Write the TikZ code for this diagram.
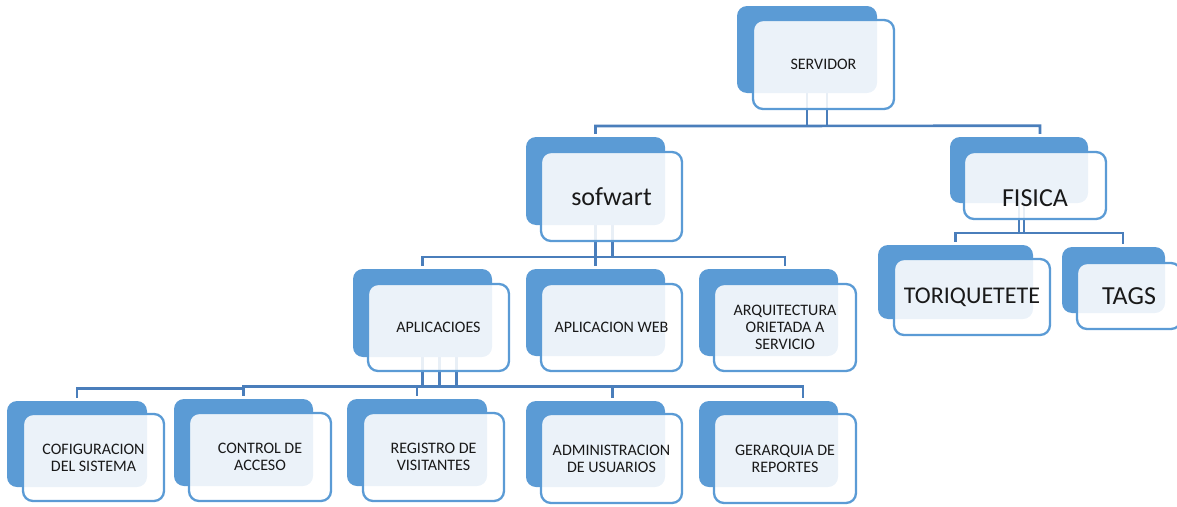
\documentclass[tikz,border=0pt]{standalone}
\usepackage{fontspec}
\setmainfont{Carlito}
\usetikzlibrary{calc}
\pgfdeclarelayer{bg}
\pgfsetlayers{bg,main}
\definecolor{bkblue}{HTML}{5B9BD5}
\definecolor{lnblue}{HTML}{4A7EBB}
\begin{document}
\begin{tikzpicture}[x=1pt,y=-1pt,
  backbox/.style={rectangle, rounded corners=10pt, fill=bkblue, inner sep=0pt},
  frontbox/.style={rectangle, rounded corners=10pt, draw=bkblue, line width=2.3pt,
    fill=white, fill opacity=0.88, text opacity=1, inner sep=0pt, align=center,
    text=black!90, font=\fontsize{16}{17}\selectfont},
  bigtext/.style={font=\fontsize{26}{30}\selectfont},
  conn/.style={draw=lnblue, line width=2.7pt}]
\useasboundingbox (0,0) rectangle (1177,506);

% back boxes
\node[backbox, minimum width=140pt, minimum height=87pt] (srvB) at (807,49.5) {};
\node[backbox, minimum width=139pt, minimum height=88pt] (sofB) at (595.5,181) {};
\node[backbox, minimum width=138pt, minimum height=66pt] (fisB) at (1019,170) {};
\node[backbox, minimum width=139pt, minimum height=88pt] (aplB) at (422.5,313) {};
\node[backbox, minimum width=139pt, minimum height=87pt] (webB) at (595.5,312.5) {};
\node[backbox, minimum width=139pt, minimum height=87pt] (arqB) at (768.5,312.5) {};
\node[backbox, minimum width=155pt, minimum height=74pt] (torB) at (955.5,282) {};
\node[backbox, minimum width=103pt, minimum height=66pt] (tagB) at (1113.5,280) {};
\node[backbox, minimum width=140pt, minimum height=86pt] (cfgB) at (77,444) {};
\node[backbox, minimum width=139pt, minimum height=87pt] (ctlB) at (243.5,442.5) {};
\node[backbox, minimum width=140pt, minimum height=87pt] (regB) at (417,442.5) {};
\node[backbox, minimum width=139pt, minimum height=86pt] (admB) at (595.5,444) {};
\node[backbox, minimum width=139pt, minimum height=86pt] (gerB) at (768.5,444) {};

% front boxes
\node[frontbox, minimum width=141pt, minimum height=89pt] (srv) at (823.5,64.5) {SERVIDOR};
\node[frontbox, bigtext, minimum width=141pt, minimum height=89pt] (sof) at (611.5,196.5) {sofwart};
\node[frontbox, minimum width=142pt, minimum height=67pt] (fis) at (1035,185.5) {};
\node[bigtext, text=black!90, inner sep=0pt] (fisT) at ($(fis.center)+(0,13)$) {FISICA};
\node[frontbox, minimum width=141pt, minimum height=87pt] (apl) at (438.5,327.5) {APLICACIOES};
\node[frontbox, minimum width=141pt, minimum height=87pt] (web) at (611.5,327.5) {APLICACION WEB};
\node[frontbox, minimum width=142pt, minimum height=87pt] (arq) at (785,327.5) {ARQUITECTURA\\ORIETADA A\\SERVICIO};
\node[frontbox, font=\fontsize{24}{28}\selectfont, minimum width=156pt, minimum height=76pt] (tor) at (972,297) {TORIQUETETE};
\node[frontbox, bigtext, minimum width=104pt, minimum height=66pt] (tag) at (1129,296) {TAGS};
\node[frontbox, minimum width=141pt, minimum height=87pt] (cfg) at (93.5,457.5) {COFIGURACION\\DEL SISTEMA};
\node[frontbox, minimum width=142pt, minimum height=88pt] (ctl) at (260,457) {CONTROL DE\\ACCESO};
\node[frontbox, minimum width=141pt, minimum height=88pt] (reg) at (433.5,457) {REGISTRO DE\\VISITANTES};
\node[frontbox, minimum width=141pt, minimum height=89pt] (adm) at (611.5,458.5) {ADMINISTRACION\\DE USUARIOS};
\node[frontbox, minimum width=142pt, minimum height=89pt] (ger) at (785,458.5) {GERARQUIA DE\\REPORTES};

% connectors
\begin{pgfonlayer}{bg}
% SERVIDOR
\draw[conn] (srvB.south) -- (srvB.south |- 0,126);
\draw[conn] ($(srvB.south)+(20,0)$) -- ($(srvB.south)+(20,33)$);
\draw[conn] ([yshift=3pt]sofB.north) -- (sofB.north |- 0,126) -- ($(fisB.north)+(21,-11)$) -- ($(fisB.north)+(21,-3)$);
% sofwart
\draw[conn] (sofB.south) -- (sofB.south |- 0,257);
\draw[conn] ($(sofB.south)+(17,0)$) -- ($(sofB.south |- 0,257)+(17,0)$);
\draw[conn] ([yshift=3pt]aplB.north) -- (aplB.north |- 0,257) -- (arq.north |- 0,257) -- ($(arq.north |- arqB.north)+(0,-3)$);
\draw[conn] (webB.north |- 0,257) -- ([yshift=3pt]webB.north);
% FISICA
\draw[conn] (fisB.south) -- (fisB.south |- 0,233);
\draw[conn] ($(fisB.south)+(5,0)$) -- ($(fisB.south |- 0,233)+(5,0)$);
\draw[conn] ([yshift=3pt]torB.north) -- (torB.north |- 0,233) -- ($(tagB.north |- 0,233)+(9.5,0)$) -- ($(tagB.north)+(9.5,-3)$);
% APLICACIOES
\draw[conn] (aplB.south) -- (aplB.south |- 0,387);
\draw[conn] ($(aplB.south)+(17,0)$) -- ($(aplB.south |- 0,387)+(17,0)$);
\draw[conn] ($(aplB.south)+(34,0)$) -- ($(aplB.south |- 0,387)+(34,0)$);
\draw[conn] ([yshift=3pt]cfgB.north) -- (cfgB.north |- 0,388.5) -- (ctlB.north |- 0,388.5);
\draw[conn] ([yshift=3pt]ctlB.north) -- (ctlB.north |- 0,386.5) -- ($(gerB.north |- 0,386.5)+(34.5,0)$) -- ($(gerB.north)+(34.5,-3)$);
\draw[conn] (regB.north |- 0,387) -- ([yshift=3pt]regB.north);
\draw[conn] ($(admB.north |- 0,387)+(17,0)$) -- ($(admB.north)+(17,-3)$);
\end{pgfonlayer}
\end{tikzpicture}
\end{document}
